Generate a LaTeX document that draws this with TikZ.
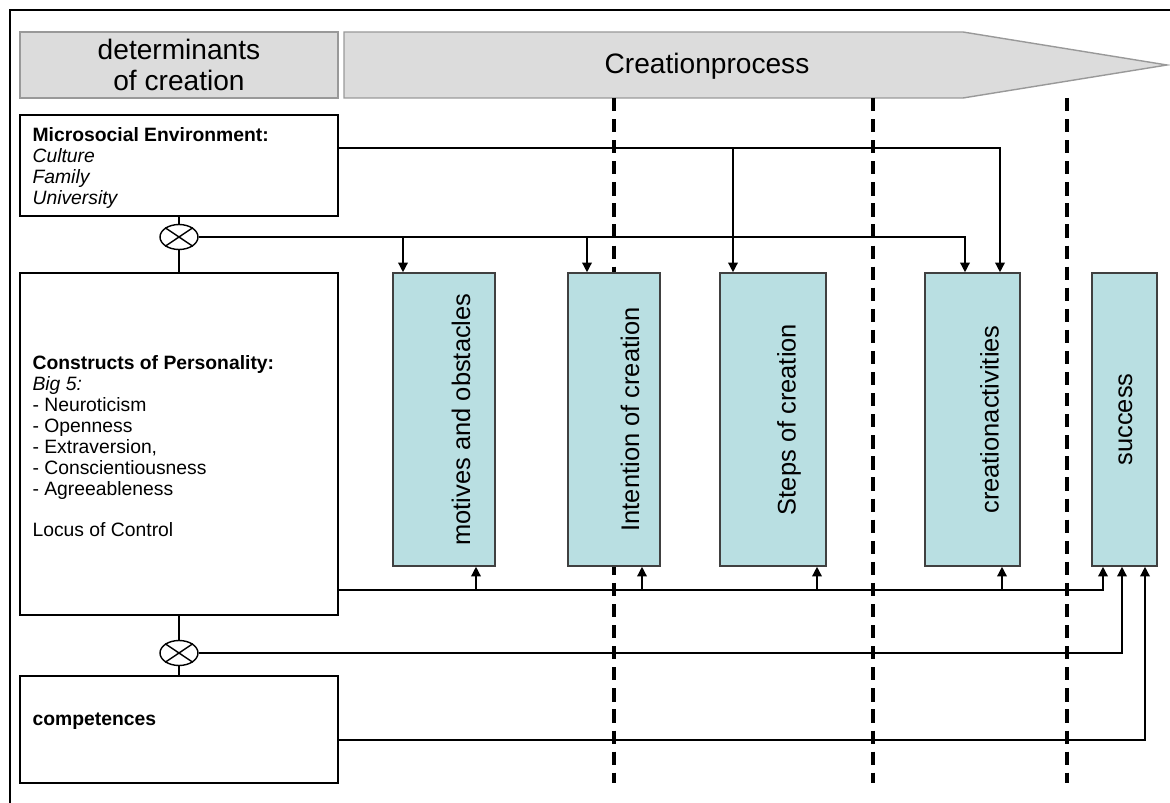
\documentclass[tikz,border=0pt]{standalone}
\usepackage{fontspec}
\setmainfont{Liberation Sans}
\usetikzlibrary{fit,shapes.geometric,arrows.meta}
\definecolor{headgray}{RGB}{220,220,220}
\definecolor{stageblue}{RGB}{185,223,226}

\tikzset{
  head/.style={draw=gray!80, fill=headgray, line width=0.8pt, inner sep=0pt},
  headtext/.style={font=\fontsize{16}{17.5}\selectfont, align=center},
  factor/.style={draw, line width=0.9pt, inner sep=0pt},
  factortext/.style={anchor=north west, align=left, inner sep=0pt, font=\fontsize{11}{11.9}\selectfont},
  stage/.style={draw=black!75, fill=stageblue, line width=0.9pt, inner sep=0pt},
  stagetext/.style={rotate=90, font=\fontsize{14.5}{16}\selectfont},
  mult/.style={draw, ellipse, line width=0.8pt, minimum width=0.76cm, minimum height=0.5cm, inner sep=0pt},
  link/.style={line width=0.8pt, -{Triangle[length=5.5pt,width=5.5pt]}},
  phase/.style={line width=2pt, dash pattern=on 7.5pt off 4.5pt},
}

\begin{document}
\begin{tikzpicture}[x=0.02cm, y=-0.02cm]
  \useasboundingbox (0,0) rectangle (1170,803);
  \draw[line width=1pt] (10,803) -- (10,10) -- (1170,10);

  % headings
  \node[head, fit={(20,32) (338,98)}] (det) {};
  \node[headtext] (dettxt) at (det.center) {determinants\\of creation};
  \draw[head] (344,32) -- (963,32) -- (1167,65) -- (963,98) -- (344,98) -- cycle;
  \node[headtext] (proc) at (707,66) {Creationprocess};

  % phase borders
  \foreach \x in {614,873,1067}
    \draw[phase] (\x,98) -- (\x,783);

  % determinants
  \node[factor, fit={(20,115) (338,216)}] (micro) {};
  \node[factortext] (microtxt) at ([shift={(13,13)}]micro.north west)
    {\textbf{Microsocial Environment:}\\\textit{Culture}\\\textit{Family}\\\textit{University}};
  \node[factor, fit={(20,273) (338,615)}] (pers) {};
  \node[factortext] (perstxt) at ([shift={(13,83)}]pers.north west)
    {\textbf{Constructs of Personality:}\\\textit{Big 5:}\\- Neuroticism\\- Openness\\- Extraversion,\\- Conscientiousness\\- Agreeableness\\[11.9pt]Locus of Control};
  \node[factor, fit={(20,676) (338,783)}] (comp) {};
  \node[factortext, anchor=base west] (comptxt) at ([shift={(13,50)}]comp.north west) {\textbf{competences}};
  \node[mult] (mx) at (micro.south |- 0,237) {};
  \node[mult] (cx) at (pers.south |- 0,653) {};
  \foreach \c in {mx,cx}
    \draw[line width=0.8pt] (\c.north west) -- (\c.south east) (\c.north east) -- (\c.south west);
  \draw[line width=0.8pt] (micro) -- (mx) -- (pers) -- (cx) -- (comp);

  % stages
  \node[stage, fit={(393,273) (495,566)}] (motiv) {};
  \node[stage, fit={(568,273) (660,566)}] (inten) {};
  \node[stage, fit={(720,273) (826,566)}] (steps) {};
  \node[stage, fit={(925,273) (1020,566)}] (acts) {};
  \node[stage, fit={(1092,273) (1157,566)}] (succ) {};
  \foreach \n/\t/\d in {motiv/motives and obstacles/17, inten/Intention of creation/16,
                        steps/Steps of creation/16, acts/creationactivities/17, succ/success/1}
    \node[stagetext] (\n-txt) at ([xshift=\d*0.02cm]\n.center) {\t};

  % links
  \foreach \n/\x in {steps/733, acts/1000}
    \draw[link] (micro.east |- 0,148) -| (\n.north -| \x,0);
  \foreach \n/\x in {motiv/403, inten/587, acts/965}
    \draw[link] (mx.east) -| (\n.north -| \x,0);
  \foreach \n/\x in {motiv/476, inten/642, steps/817, acts/1002, succ/1103}
    \draw[link] (pers.east |- 0,590) -| (\n.south -| \x,0);
  \draw[link] (cx.east) -| (succ.south -| 1122,0);
  \draw[link] (comp.east |- 0,740) -| (succ.south -| 1145,0);
\end{tikzpicture}
\end{document}
